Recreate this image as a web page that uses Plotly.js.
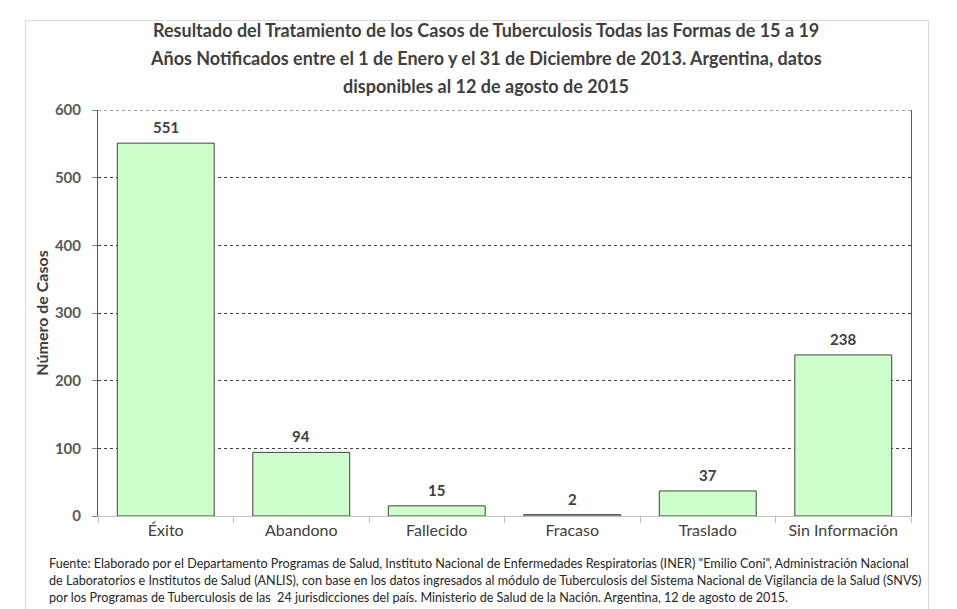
<!DOCTYPE html>
<html>
<head>
<meta charset="utf-8">
<script src="https://cdn.plot.ly/plotly-3.0.1.min.js"></script>
<style>
  html, body { margin: 0; padding: 0; background: #ffffff; }
  #chart { width: 957px; height: 609px; position: absolute; left: 0; top: 0; }
  #frame { position: absolute; left: 25px; top: 20px; width: 902px; height: 600px;
           border: 1px solid #d9d9d9; pointer-events: none; }
</style>
</head>
<body>
<div id="frame"></div>
<div id="chart"></div>
<script>
// ---- data ----
const categories = ["Éxito", "Abandono", "Fallecido", "Fracaso", "Traslado", "Sin Información"];
const casos = [551, 94, 15, 2, 37, 238];
const yTicks = [0, 100, 200, 300, 400, 500, 600];
const titleLines = [
  "Resultado del Tratamiento de los Casos de Tuberculosis Todas las Formas de 15 a 19",
  "Años Notificados entre el 1 de Enero y el 31 de Diciembre de 2013. Argentina, datos",
  "disponibles al 12 de agosto de 2015"
];
const sourceLines = [
  "Fuente: Elaborado por el Departamento Programas de Salud, Instituto Nacional de Enfermedades Respiratorias (INER) \"Emilio Coni\", Administración Nacional",
  "de Laboratorios e Institutos de Salud (ANLIS), con base en los datos ingresados al módulo de Tuberculosis del Sistema Nacional de Vigilancia de la Salud (SNVS)",
  "por los Programas de Tuberculosis de las  24 jurisdicciones del país. Ministerio de Salud de la Nación. Argentina, 12 de agosto de 2015."
];
const yTitle = "Número de Casos";

const FONT = "Lato, 'Open Sans', sans-serif";

const trace = {
  type: "bar",
  x: categories,
  y: casos,
  marker: { color: "#ccffcc", line: { color: "#404040", width: 1 } },
  hoverinfo: "x+y"
};

const titleY = [30, 58, 86];
const srcY = [563, 580, 597];
const annotations = [];

// data labels above bars
categories.forEach((c, i) => annotations.push({
  x: c, y: casos[i], xref: "x", yref: "y",
  text: "<b>" + casos[i] + "</b>", showarrow: false,
  yanchor: "bottom", yshift: 5,
  font: { family: FONT, size: 15, color: "#404040" }
}));

const L = 98, R = 46, T = 110, B = 93, W = 957, H = 609;
const pw = W - L - R, ph = H - T - B;
titleLines.forEach((t, i) => annotations.push({
  text: "<b>" + t + "</b>", xref: "paper", yref: "paper", showarrow: false,
  x: (486 - L) / pw, y: (H - B - titleY[i]) / ph,
  xanchor: "center", yanchor: "middle",
  font: { family: FONT, size: 18, color: "#404040" }
}));
sourceLines.forEach((t, i) => annotations.push({
  text: t, xref: "paper", yref: "paper", showarrow: false,
  x: (47 - L) / pw, y: (H - B - srcY[i]) / ph,
  xanchor: "left", yanchor: "middle",
  font: { family: FONT, size: 12.6, color: "#262626" }
}));

const layout = {
  width: W, height: H,
  margin: { l: L, r: R, t: T, b: B, pad: 0 },
  paper_bgcolor: "rgba(0,0,0,0)",
  plot_bgcolor: "#ffffff",
  showlegend: false,
  bargap: 0.285,
  font: { family: FONT, color: "#404040" },
  xaxis: {
    type: "category",
    showline: true, linecolor: "#bfbfbf", linewidth: 1,
    ticks: "outside", tickson: "boundaries", ticklen: 6, tickcolor: "#bfbfbf",
    showgrid: false,
    tickfont: { family: FONT, size: 16, color: "#404040" },
    fixedrange: true
  },
  yaxis: {
    range: [yTicks[0], yTicks[yTicks.length - 1]],
    tickvals: yTicks,
    ticktext: yTicks.map(String),
    showline: true, mirror: true, linecolor: "#595959", linewidth: 1,
    ticks: "outside", ticklen: 5, tickcolor: "#7f7f7f",
    ticklabelstandoff: 8,
    showgrid: true, gridcolor: "#404040", griddash: "dot", gridwidth: 1,
    zeroline: false,
    tickfont: { family: FONT, size: 15, color: "#595959", weight: "bold" },
    title: { text: "<b>" + yTitle + "</b>", font: { family: FONT, size: 16, color: "#404040" }, standoff: 2 },
    fixedrange: true
  },
  shapes: [{
    type: "line", xref: "paper", yref: "y",
    x0: 0, x1: 1, y0: yTicks[yTicks.length - 1], y1: yTicks[yTicks.length - 1],
    line: { color: "#404040", width: 1, dash: "dot" }
  }],
  annotations: annotations
};

Plotly.newPlot("chart", [trace], layout, { displayModeBar: false, staticPlot: true });
</script>
</body>
</html>
